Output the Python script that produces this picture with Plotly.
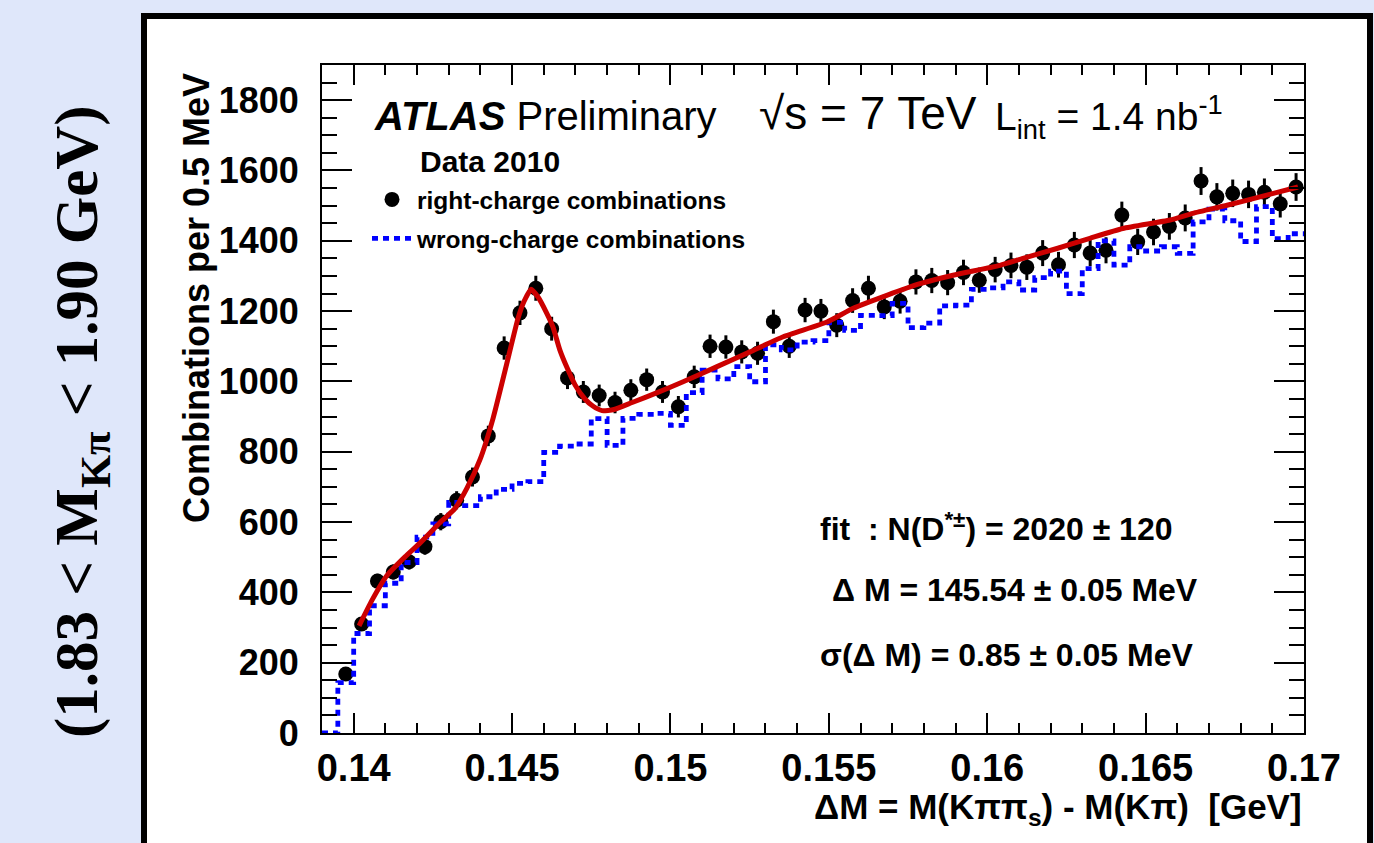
import numpy as np
import plotly.graph_objects as go

# ---- data -----------------------------------------------------------------
# Delta M binning (GeV): 62 bins of 0.5 MeV between 0.139 and 0.170
bin_edges = np.round(np.linspace(0.139, 0.170, 63), 5)
bin_centers = np.round(0.5 * (bin_edges[:-1] + bin_edges[1:]), 5)

# right-charge combinations per bin (bins 2..62; the first bin is empty)
right_counts = [
    168, 310, 432, 458, 487, 530, 601, 662, 728, 845,
    1095, 1195, 1265, 1150, 1010, 970, 960, 940, 975, 1005,
    970, 928, 1013, 1100, 1098, 1084, 1080, 1170, 1100, 1203,
    1200, 1160, 1230, 1265, 1212, 1228, 1283, 1287, 1281, 1310,
    1288, 1318, 1330, 1325, 1365, 1332, 1388, 1365, 1373, 1473,
    1397, 1425, 1441, 1465, 1570, 1525, 1535, 1532, 1538, 1505,
    1553,
]

# wrong-charge combinations per bin (all 62 bins)
wrong_counts = [
    0, 143, 283, 362, 426, 485, 557, 595, 656, 647,
    672, 693, 710, 715, 798, 816, 822, 894, 818, 895,
    906, 909, 875, 968, 1032, 1007, 1042, 999, 1104, 1090,
    1112, 1116, 1168, 1145, 1188, 1187, 1222, 1153, 1166, 1215,
    1217, 1262, 1266, 1283, 1260, 1295, 1314, 1250, 1321, 1400,
    1331, 1383, 1371, 1383, 1364, 1454, 1490, 1457, 1398, 1497,
    1406, 1420,
]

# fitted signal + background curve
fit_dm = [
    0.14017, 0.14058, 0.14105, 0.14162, 0.14209, 0.14272, 0.14320, 0.14358,
    0.14399, 0.14440, 0.14481, 0.14519, 0.14538, 0.14560, 0.14582, 0.14610,
    0.14629, 0.14651, 0.14673, 0.14699, 0.14730, 0.14755, 0.14784, 0.14822,
    0.14879, 0.14958, 0.15040, 0.15147, 0.15251, 0.15356, 0.15494, 0.15577,
    0.15683, 0.15788, 0.15892, 0.16040, 0.16113, 0.16220, 0.16324, 0.16428,
    0.16577, 0.16649, 0.16757, 0.16861, 0.16981,
]
fit_val = [
    305, 378, 448, 501, 540, 598, 639, 697,
    778, 895, 1042, 1180, 1228, 1262, 1240, 1193,
    1155, 1089, 1040, 990, 950, 930, 917, 920,
    940, 968, 999, 1042, 1084, 1127, 1169, 1208,
    1245, 1278, 1302, 1330, 1350, 1378, 1407, 1435,
    1459, 1478, 1501, 1525, 1553,
]

# axis ticks
x_tickvals = [0.14, 0.145, 0.15, 0.155, 0.16, 0.165, 0.17]
x_ticktext = ["0.14", "0.145", "0.15", "0.155", "0.16", "0.165", "0.17"]
y_tickvals = [0, 200, 400, 600, 800, 1000, 1200, 1400, 1600, 1800]
y_ticktext = ["0", "200", "400", "600", "800", "1000", "1200", "1400", "1600", "1800"]

# ---- page geometry ----------------------------------------------------------
W, H = 1374, 843
ML, MR, MT, MB = 322, 70, 65, 110
PW, PH = W - ML - MR, H - MT - MB

SANS = "Liberation Sans, Arial, Helvetica, sans-serif"
SERIF = "Liberation Serif, Times New Roman, serif"


def px(x):
    return (x - ML) / PW


def py(y):
    return (H - MB - y) / PH


fig = go.Figure()

# right-charge data with statistical error bars
fig.add_trace(go.Scatter(
    x=bin_centers[1:], y=right_counts,
    mode="markers",
    name="<b>right-charge combinations</b>",
    marker=dict(color="black", size=15, symbol="circle"),
    error_y=dict(type="data", array=np.sqrt(right_counts), color="black",
                 thickness=3, width=0),
    legendgroup="rc",
))

# wrong-charge histogram drawn as steps over the bin edges
fig.add_trace(go.Scatter(
    x=list(bin_edges[:-1]) + [bin_edges[-1]],
    y=wrong_counts + [wrong_counts[-1]],
    mode="lines", line_shape="hv",
    name="<b>wrong-charge combinations</b>",
    line=dict(color="#0000ff", width=4.8, dash="6px,5px"),
    legendgroup="wc",
))

# fit curve
fig.add_trace(go.Scatter(
    x=fit_dm, y=fit_val, mode="lines",
    line=dict(color="#cc0000", width=5, shape="spline", smoothing=0.5),
    showlegend=False, hoverinfo="skip",
))

axis_common = dict(
    showline=True, linecolor="black", linewidth=2, mirror="allticks",
    ticks="inside", tickcolor="black", tickwidth=2,
    showgrid=False, zeroline=False, automargin=False,
)

fig.update_xaxes(
    range=[0.139, 0.170], tickmode="array",
    tickvals=x_tickvals, ticktext=x_ticktext, ticklen=20,
    ticklabelstandoff=0,
    tickfont=dict(family=SANS, size=38, color="black", weight="bold"),
    minor=dict(ticks="inside", ticklen=10, tick0=0.139, dtick=0.001,
               tickcolor="black", tickwidth=2, showgrid=False),
    **axis_common,
)
fig.update_yaxes(
    range=[0, 1900], tickmode="array",
    tickvals=y_tickvals, ticktext=y_ticktext, ticklen=30,
    ticklabelstandoff=14,
    tickfont=dict(family=SANS, size=36, color="black", weight="bold"),
    minor=dict(ticks="inside", ticklen=15, tick0=0, dtick=50,
               tickcolor="black", tickwidth=2, showgrid=False),
    **axis_common,
)

annotations = [
    # axis titles
    dict(x=px(1304), y=py(809), xanchor="right", yanchor="middle",
         text="<b>ΔM = M(Kππ<sub>s</sub>) - M(Kπ)  [GeV]</b>",
         font=dict(family=SANS, size=35)),
    dict(x=px(196), y=py(298), xanchor="center", yanchor="middle",
         textangle=-90, text="<b>Combinations per 0.5 MeV</b>",
         font=dict(family=SANS, size=36)),
    # header texts
    dict(x=px(372), y=py(116), xanchor="left", yanchor="middle",
         text="<b><i>ATLAS</i></b> Preliminary",
         font=dict(family=SANS, size=40)),
    dict(x=px(757), y=py(113), xanchor="left", yanchor="middle",
         text="√s = 7 TeV", font=dict(family=SANS, size=46)),
    dict(x=px(993), y=py(117), xanchor="left", yanchor="middle",
         text="L<sub>int</sub> = 1.4 nb<sup>-1</sup>",
         font=dict(family=SANS, size=39)),
    dict(x=px(418), y=py(161), xanchor="left", yanchor="middle",
         text="<b>Data 2010</b>", font=dict(family=SANS, size=30)),
    # fit results
    dict(x=px(818), y=py(527), xanchor="left", yanchor="middle",
         text="<b>fit  : N(D<sup>*±</sup>) = 2020 ± 120</b>",
         font=dict(family=SANS, size=32)),
    dict(x=px(830), y=py(590), xanchor="left", yanchor="middle",
         text="<b>Δ M = 145.54 ± 0.05 MeV</b>",
         font=dict(family=SANS, size=32)),
    dict(x=px(818), y=py(655), xanchor="left", yanchor="middle",
         text="<b>σ(Δ M) = 0.85 ± 0.05 MeV</b>",
         font=dict(family=SANS, size=32)),
    # selection window on the left margin
    dict(x=px(81), y=py(422), xanchor="center", yanchor="middle",
         textangle=-90,
         text="<b>(1.83 &lt; M<sub>Kπ</sub> &lt; 1.90 GeV)</b>",
         font=dict(family=SERIF, size=61)),
]
for a in annotations:
    a.update(xref="paper", yref="paper", showarrow=False)
    a["font"].setdefault("color", "black")

fig.update_layout(
    template="none",
    width=W, height=H,
    margin=dict(l=ML, r=MR, t=MT, b=MB, pad=0),
    paper_bgcolor="#dfe7fa",
    plot_bgcolor="white",
    annotations=annotations,
    shapes=[dict(type="rect", xref="paper", yref="paper",
                 x0=px(144), x1=px(1370), y0=py(880), y1=py(16),
                 line=dict(color="black", width=6), fillcolor="white",
                 layer="below")],
    showlegend=True,
    legend=dict(x=px(367), y=py(177), xanchor="left", yanchor="top",
                font=dict(family=SANS, size=24.5, color="black"),
                bgcolor="rgba(0,0,0,0)", borderwidth=0,
                itemwidth=40, tracegroupgap=4, traceorder="grouped"),
)

fig.write_html("out.html")
